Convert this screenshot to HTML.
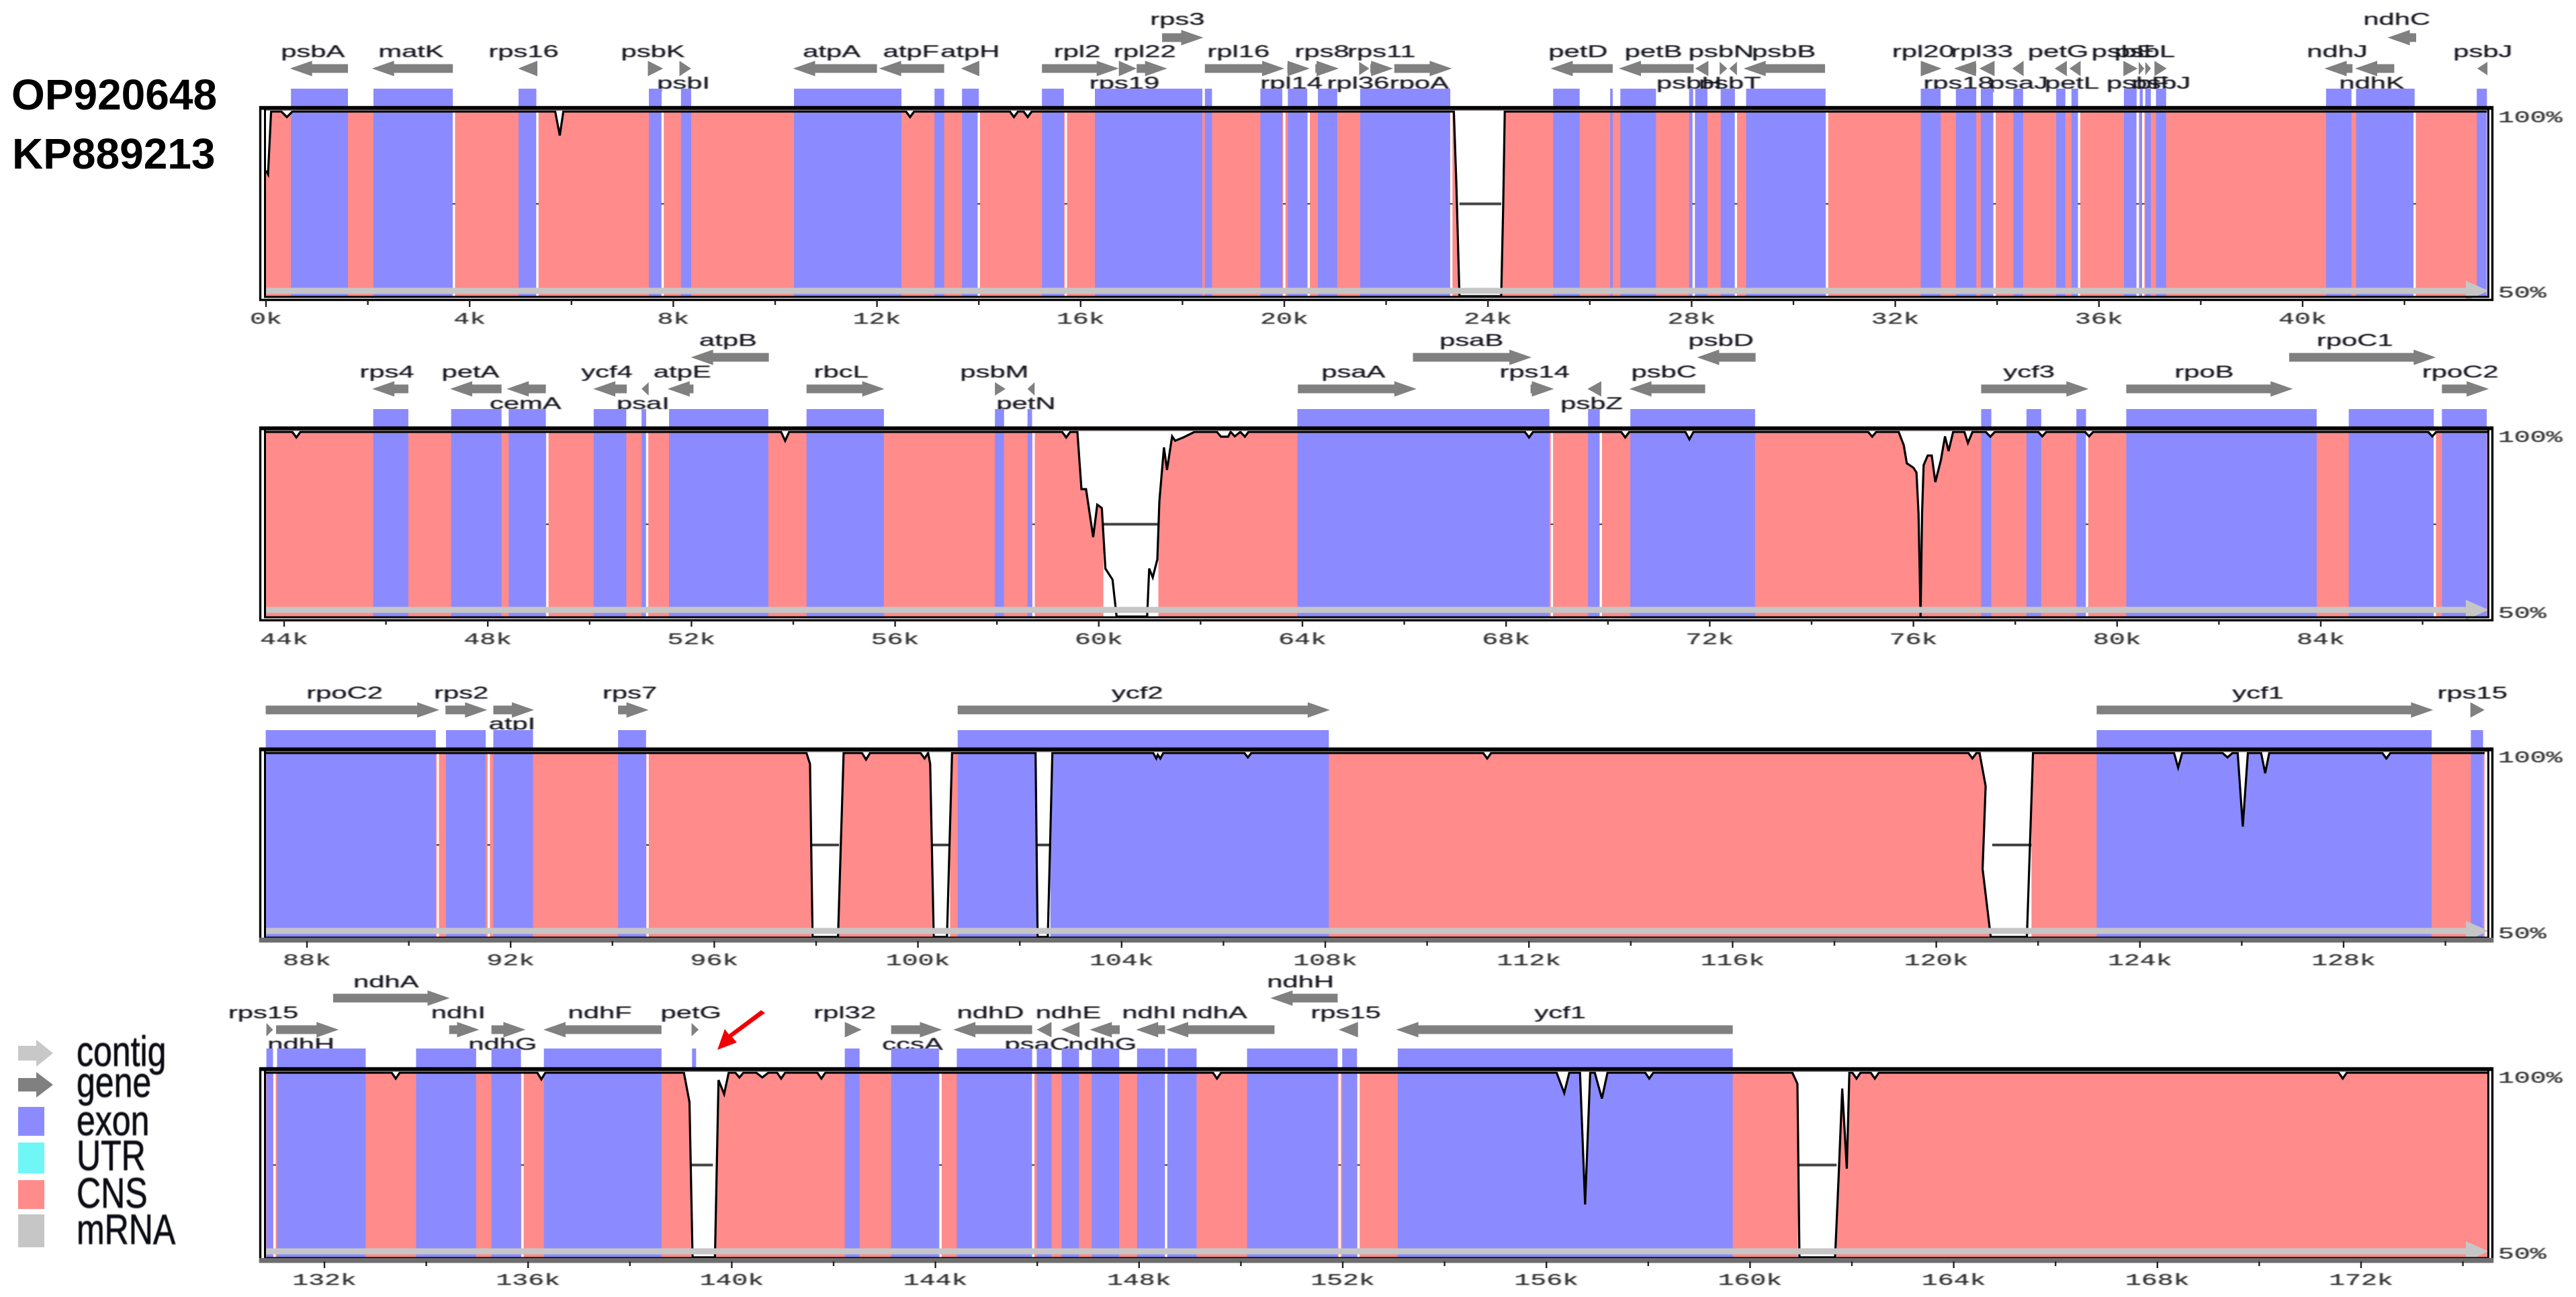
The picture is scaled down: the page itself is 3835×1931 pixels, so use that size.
<!DOCTYPE html>
<html lang="en">
<head>
<meta charset="utf-8">
<title>mVISTA alignment OP920648 vs KP889213</title>
<style>
html,body{margin:0;padding:0;background:#fff;}
body{width:3835px;height:1931px;overflow:hidden;}
svg{display:block;}
text{font-family:"Liberation Sans",sans-serif;}
.gene-label{font-size:25px;fill:#14141f;stroke:#14141f;stroke-width:.25px;text-anchor:middle;filter:blur(.6px);}
.tick-label{font-family:"Liberation Mono",monospace;font-size:24px;fill:#333;stroke:#333;stroke-width:.3px;filter:blur(.6px);}
.legend-text{font-size:50px;fill:#0c0c14;stroke:#0c0c14;stroke-width:.6px;filter:blur(.6px);}
.seq-label{font-size:64px;font-weight:bold;fill:#000;}
</style>
</head>
<body>
<svg id="chart" xmlns="http://www.w3.org/2000/svg" width="3835" height="1931" viewBox="0 0 3835 1931">
  <rect x="0" y="0" width="3835" height="1931" fill="#fff"/>
  <text class="seq-label" x="17" y="163">OP920648</text>
  <text class="seq-label" x="18" y="251">KP889213</text>
  <g id="panels"></g>
  <g>
    <polygon points="27,1557 54,1557 54,1548 79,1568 54,1588 54,1579 27,1579" fill="#c8c8c8"/>
    <polygon points="27,1605 54,1605 54,1596 79,1615 54,1634 54,1625 27,1625" fill="#808080"/>
    <rect x="27" y="1648" width="39" height="43" fill="#8b8bff"/>
    <rect x="27" y="1701" width="39" height="46" fill="#6ff6f6"/>
    <rect x="27" y="1757" width="39" height="43" fill="#ff8b8b"/>
    <rect x="27" y="1808" width="39" height="49" fill="#c6c6c6"/>
    <text class="legend-text" transform="translate(114,1587) scale(1,1.27)">contig</text>
    <text class="legend-text" transform="translate(114,1633) scale(1,1.27)">gene</text>
    <text class="legend-text" transform="translate(114,1690) scale(1,1.27)">exon</text>
    <text class="legend-text" transform="translate(114,1742) scale(1,1.27)">UTR</text>
    <text class="legend-text" transform="translate(114,1798) scale(1,1.27)">CNS</text>
    <text class="legend-text" transform="translate(114,1852) scale(1,1.27)">mRNA</text>
  </g>
  <polygon points="1133,1504 1139,1508 1090,1544 1097,1552 1068,1563 1079,1532 1085,1540" fill="#f00000"/>
</svg>
<script>
// ---- Panel 1 data (kb, % identity) ----
const panel1Ticks = [0,4,8,12,16,20,24,28,32,36,40];
const panel1Exons = [[0.49,1.61],[2.11,3.67],[4.96,5.31],[7.52,7.77],[8.15,8.35],[10.37,12.48],[13.13,13.32],[13.67,14.0],[15.24,15.67],[16.28,18.39],[18.44,18.58],[19.53,19.96],[20.07,20.45],[20.66,21.04],[21.49,23.26],[25.28,25.8],[26.4,26.45],[26.6,27.3],[27.95,28.03],[28.07,28.31],[28.57,28.85],[29.07,30.63],[32.5,32.89],[33.19,33.59],[33.68,33.92],[34.32,34.51],[35.16,35.34],[35.46,35.59],[36.49,36.74],[36.8,36.86],[36.91,37.02],[37.12,37.32],[40.46,40.96],[41.05,42.2],[43.42,43.62]];
const panel1WhiteLines = [3.69,5.33,7.79,14.0,15.71,20.0,20.48,23.28,28.04,28.87,30.66,33.95,35.61,36.76,36.87,42.2];
const panel1Gaps = [[23.44,24.26]];
const panel1Curve = [[0,84],[0.04,83],[0.1,100],[0.3,100],[0.41,98.5],[0.52,100],[5.68,100],[5.77,93.5],[5.84,100],[12.57,100],[12.65,98.5],[12.73,100],[14.61,100],[14.69,98.5],[14.77,100],[14.88,100],[14.96,98.5],[15.04,100],[23.33,100],[23.38,80],[23.44,50],[24.26,50],[24.3,75],[24.33,100],[43.62,100]];
const panel1Genes = [
 ['psbA',0.47,1.61,-1,0.92,'up'],['matK',2.08,3.67,-1,2.85,'up'],['rps16',4.95,5.33,-1,5.06,'up'],['psbK',7.5,7.8,1,7.6,'up'],['psbI',8.12,8.35,1,8.2,'low'],
 ['atpA',10.35,12.0,-1,11.11,'up'],['atpF',12.04,13.32,-1,12.67,'up'],['atpH',13.65,14.01,-1,13.83,'up'],['rpl2',15.24,16.75,1,15.93,'up'],['rps19',16.75,17.1,1,16.86,'low'],
 ['rpl22',17.1,17.7,1,17.26,'up'],['rps3',17.6,18.41,1,17.9,'top'],['rpl16',18.44,20.0,1,19.1,'up'],['rpl14',20.06,20.5,1,20.14,'low'],['rps8',20.61,21.07,1,20.74,'up'],
 ['rpl36',21.47,21.67,1,21.45,'low'],['rps11',21.69,22.14,1,21.91,'up'],['rpoA',22.16,23.29,1,22.65,'low'],['petD',25.23,26.45,-1,25.77,'up'],['petB',26.57,28.04,-1,27.25,'up'],
 ['psbH',28.07,28.33,-1,27.95,'low'],['psbN',28.55,28.7,1,28.58,'up'],['psbT',28.74,28.89,-1,28.75,'low'],['psbB',29.02,30.62,-1,29.81,'up'],['rpl20',32.5,32.91,1,32.55,'up'],
 ['rps18',33.15,33.59,-1,33.24,'low'],['rpl33',33.65,33.95,-1,33.7,'up'],['psaJ',34.3,34.52,-1,34.42,'low'],['petG',35.13,35.37,-1,35.2,'up'],['petL',35.42,35.64,-1,35.47,'low'],
 ['psbE',36.48,36.76,1,36.48,'up'],['psbF',36.78,36.89,1,36.76,'low'],['psbL',36.91,37.02,1,36.9,'up'],['psbJ',37.09,37.33,1,37.22,'low'],['ndhJ',40.43,40.98,-1,40.68,'up'],
 ['ndhK',41.03,41.8,-1,41.36,'low'],['ndhC',41.67,42.23,-1,41.85,'top'],['psbJ',43.43,43.63,-1,43.54,'up']
];

// ---- Panel 2 data ----
const panel2Ticks = [44,48,52,56,60,64,68,72,76,80,84];
const panel2Exons = [[45.75,46.44],[47.28,48.27],[48.41,49.14],[50.08,50.72],[51.02,51.11],[51.56,53.51],[54.26,55.78],[57.96,58.14],[58.6,58.69],[63.9,68.85],[69.61,69.84],[70.44,72.89],[77.33,77.53],[78.22,78.51],[79.2,79.39],[80.18,83.92],[84.55,86.22],[86.38,87.26]];
const panel2WhiteLines = [49.17,51.13,58.72,68.9,69.86,79.41,86.24];
const panel2Gaps = [[60.09,61.17]];
const panel2Curve = [[43.63,100],[44.16,100],[44.24,98.5],[44.32,100],[53.76,100],[53.84,97.6],[53.92,100],[59.28,100],[59.36,98.5],[59.44,100],[59.58,100],[59.66,84.5],[59.75,84.5],[59.89,71.5],[59.97,80.3],[60.06,79.4],[60.13,63],[60.27,60],[60.35,50],[60.95,50],[60.99,63],[61.06,60.6],[61.15,65.5],[61.19,81.2],[61.28,95.8],[61.34,89.7],[61.44,98.8],[61.5,97.6],[61.66,98.5],[61.88,100],[62.32,100],[62.4,98.7],[62.54,98.7],[62.59,100],[62.67,98.8],[62.78,100],[62.87,98.7],[62.94,100],[68.37,100],[68.45,98.5],[68.53,100],[70.26,100],[70.34,98.5],[70.42,100],[71.52,100],[71.6,98],[71.68,100],[75.11,100],[75.19,98.7],[75.27,100],[75.71,100],[75.81,96.4],[75.87,91.5],[76.0,90.3],[76.06,89],[76.1,78],[76.14,50],[76.17,78],[76.2,91],[76.28,93.6],[76.36,93.6],[76.43,86.4],[76.54,92.4],[76.62,98.8],[76.69,94.8],[76.78,100],[77.0,100],[77.07,97],[77.16,100],[77.42,100],[77.51,98.7],[77.6,100],[78.45,100],[78.53,98.8],[78.61,100],[79.37,100],[79.45,98.8],[79.53,100],[86.11,100],[86.19,98.8],[86.27,100],[87.3,100]];
const panel2Genes = [
 ['rps4',45.73,46.44,-1,46.02,'up'],['petA',47.26,48.27,-1,47.66,'up'],['cemA',48.37,49.14,-1,48.74,'low'],['ycf4',50.07,50.73,-1,50.34,'up'],['psaI',51.02,51.16,-1,51.05,'low'],
 ['atpE',51.53,52.04,-1,51.82,'up'],['atpB',51.99,53.52,-1,52.72,'top'],['rbcL',54.26,55.79,1,54.94,'up'],['psbM',57.96,58.17,1,57.95,'up'],['petN',58.6,58.74,-1,58.57,'low'],
 ['psaA',63.91,66.24,1,65.0,'up'],['psaB',66.17,68.5,1,67.32,'top'],['rps14',68.48,68.94,1,68.56,'up'],['psbZ',69.6,69.87,-1,69.68,'low'],['psbC',70.42,71.91,-1,71.1,'up'],
 ['psbD',71.75,72.9,-1,72.22,'top'],['ycf3',77.33,79.44,1,78.27,'up'],['rpoB',80.18,83.45,1,81.71,'up'],['rpoC1',83.38,86.26,1,84.67,'top'],['rpoC2',86.38,87.3,1,86.74,'up']
];

// ---- Panel 3 data ----
const panel3Ticks = [88,92,96,100,104,108,112,116,120,124,128];
const panel3Exons = [[87.19,90.53],[90.73,91.51],[91.66,92.44],[94.11,94.66],[100.78,108.07],[123.15,129.73],[130.5,130.74]];
const panel3WhiteLines = [90.57,91.57,94.69];
const panel3Gaps = [[97.9,98.45],[100.28,100.63],[102.34,102.6],[121.1,121.87]];
const panel3Curve = [[87.19,100],[97.81,100],[97.88,97],[97.93,50],[98.43,50],[98.54,100],[98.9,100],[98.98,98.2],[99.06,100],[100.05,100],[100.13,98.5],[100.2,100],[100.24,97],[100.31,50],[100.57,50],[100.67,100],[102.31,100],[102.35,50],[102.55,50],[102.64,100],[104.62,100],[104.68,98.5],[104.71,99.5],[104.76,98.5],[104.82,100],[106.41,100],[106.48,98.8],[106.55,100],[111.1,100],[111.18,98.5],[111.26,100],[120.63,100],[120.71,98.5],[120.79,100],[120.85,100],[120.97,91],[120.91,68.5],[121.07,50],[121.78,50],[121.9,100],[124.67,100],[124.75,96],[124.83,100],[125.62,100],[125.72,98.8],[125.82,100],[125.92,100],[126.02,80],[126.12,100],[126.38,100],[126.46,94.5],[126.54,100],[128.76,100],[128.84,98.5],[128.92,100],[130.77,100]];
const panel3Genes = [
 ['rpoC2',87.19,90.6,1,88.74,'up'],['rps2',90.72,91.54,1,91.03,'up'],['atpI',91.66,92.46,1,92.03,'low'],['rps7',94.11,94.71,1,94.34,'up'],['ycf2',100.78,108.09,1,104.31,'up'],
 ['ycf1',123.15,129.76,1,126.32,'up'],['rps15',130.49,130.77,1,130.53,'up']
];

// ---- Panel 4 data ----
const panel4Ticks = [132,136,140,144,148,152,156,160,164,168,172];
const panel4Exons = [[130.86,130.99],[131.07,132.81],[133.8,134.98],[135.28,135.86],[136.31,138.62],[139.22,139.3],[142.22,142.51],[143.13,144.07],[144.42,145.9],[145.99,146.28],[146.48,146.82],[147.07,147.61],[147.96,148.51],[148.56,149.13],[150.12,151.9],[151.99,152.28],[153.08,159.66]];
const panel4WhiteLines = [131.02,135.89,144.1,145.92,148.53,151.94,152.31];
const panel4Gaps = [[139.2,139.63],[160.94,161.7]];
const panel4Curve = [[130.84,100],[133.32,100],[133.4,98.4],[133.48,100],[136.18,100],[136.26,98.2],[136.34,100],[139.06,100],[139.17,92],[139.23,50],[139.67,50],[139.74,98],[139.85,94.2],[139.94,100],[140.07,100],[140.15,98.7],[140.23,100],[140.48,100],[140.6,98.7],[140.72,100],[140.89,100],[140.97,98.4],[141.05,100],[141.68,100],[141.76,98.4],[141.84,100],[149.45,100],[149.53,98.4],[149.61,100],[156.2,100],[156.35,94.5],[156.45,100],[156.66,100],[156.76,64.3],[156.86,100],[156.95,100],[157.09,93],[157.2,100],[157.94,100],[158.02,98.4],[158.1,100],[160.83,100],[160.93,97],[160.97,50],[161.67,50],[161.74,72],[161.81,95.7],[161.9,74],[161.95,100],[162.01,100],[162.09,98.4],[162.17,100],[162.37,100],[162.45,98.4],[162.53,100],[171.56,100],[171.64,98.4],[171.72,100],[174.48,100]];
const panel4Genes = [
 ['rps15',130.86,130.99,1,130.8,'up'],['ndhH',131.05,132.28,1,131.54,'low'],['ndhA',132.17,134.46,1,133.21,'top'],['ndhI',134.45,135.04,1,134.63,'up'],['ndhG',135.28,135.95,1,135.5,'low'],
 ['ndhF',136.3,138.62,-1,137.41,'up'],['petG',139.21,139.35,1,139.2,'up'],['rpl32',142.22,142.55,1,142.22,'up'],['ccsA',143.13,144.13,1,143.55,'low'],['ndhD',144.35,145.9,-1,145.08,'up'],
 ['psaC',145.99,146.28,-1,146.0,'low'],['ndhE',146.47,146.83,-1,146.61,'up'],['ndhG',147.03,147.62,-1,147.28,'low'],['ndhI',147.94,148.51,-1,148.2,'up'],['ndhA',148.53,150.66,-1,149.48,'up'],
 ['ndhH',150.58,151.9,-1,151.17,'top'],['rps15',151.92,152.3,-1,152.06,'up'],['ycf1',153.05,159.66,-1,156.27,'up']
];

const SVGNS = 'http://www.w3.org/2000/svg';
const PX_PER_KB = 75.8;
const BLUE = '#8b8bff', RED = '#ff8b8b', GENE = '#808080', BAR = '#c6c6c6';

function mk(tag, attrs, parent) {
  const el = document.createElementNS(SVGNS, tag);
  for (const k in attrs) el.setAttribute(k, attrs[k]);
  parent.appendChild(el);
  return el;
}

const layouts = [
  {k0:0,  x0:396, start:0,     end:43.62,  frameTop:158,  y100:166,  y50:441,  frameBot:445,  exonTop:132,  barC:433,  arrow:102,  arrowTop:56,   up:85,   low:132,  top:37,   tickTop:447,  tickText:482,  pct100:182,  pct50:443,  greyBottom:false,
   ticks:panel1Ticks, exons:panel1Exons, lines:panel1WhiteLines, gaps:panel1Gaps, curve:panel1Curve, genes:panel1Genes},
  {k0:44, x0:423, start:43.63, end:87.3,   frameTop:635,  y100:643,  y50:918,  frameBot:922,  exonTop:609,  barC:908,  arrow:579,  arrowTop:532,  up:562,  low:609,  top:515,  tickTop:923,  tickText:959,  pct100:658,  pct50:920,  greyBottom:false,
   ticks:panel2Ticks, exons:panel2Exons, lines:panel2WhiteLines, gaps:panel2Gaps, curve:panel2Curve, genes:panel2Genes},
  {k0:88, x0:457, start:87.19, end:130.77, frameTop:1113, y100:1121, y50:1395, frameBot:1400, exonTop:1087, barC:1386, arrow:1057, arrowTop:1010, up:1040, low:1086, top:993,  tickTop:1401, tickText:1437, pct100:1135, pct50:1397, greyBottom:true,
   ticks:panel3Ticks, exons:panel3Exons, lines:panel3WhiteLines, gaps:panel3Gaps, curve:panel3Curve, genes:panel3Genes},
  {k0:132,x0:483, start:130.84,end:174.48, frameTop:1589, y100:1597, y50:1872, frameBot:1877, exonTop:1561, barC:1863, arrow:1533, arrowTop:1486, up:1516, low:1563, top:1470, tickTop:1878, tickText:1913, pct100:1612, pct50:1874, greyBottom:true,
   ticks:panel4Ticks, exons:panel4Exons, lines:panel4WhiteLines, gaps:panel4Gaps, curve:panel4Curve, genes:panel4Genes}
];

function drawPanel(p, i, root) {
  const xOf = k => p.x0 + (k - p.k0) * PX_PER_KB;
  const yOf = v => p.y100 + (100 - v) / 50 * (p.y50 - p.y100);
  const g = mk('g', {}, root);
  
  

  // genes
  p.genes.forEach(gene => {
    const [name, a, b, dir, labelKb, row] = gene;
    const yc = row === 'top' ? p.arrowTop : p.arrow;
    const x1 = xOf(a), x2 = xOf(b), len = x2 - x1;
    const head = Math.min(33, len);
    const hh = len < 16 ? 10 : 11.5, bh = 6.5;
    let pts;
    if (dir > 0) {
      const s = x2 - head;
      pts = `${x1},${yc-bh} ${s},${yc-bh} ${s},${yc-hh} ${x2},${yc} ${s},${yc+hh} ${s},${yc+bh} ${x1},${yc+bh}`;
    } else {
      const s = x1 + head;
      pts = `${x2},${yc-bh} ${s},${yc-bh} ${s},${yc-hh} ${x1},${yc} ${s},${yc+hh} ${s},${yc+bh} ${x2},${yc+bh}`;
    }
    const arrow = mk('polygon', {points: pts, fill: GENE}, g);
    
    
    const base = row === 'top' ? p.top : (row === 'low' ? p.low : p.up);
    const label = mk('text', {class: 'gene-label', transform: `translate(${xOf(labelKb)},${base}) scale(1.67,1)`}, g);
    label.textContent = name;
    
    
  });

  // exon stubs above the frame
  p.exons.forEach(e => {
    const stub = mk('rect', {x: xOf(e[0]), y: p.exonTop, width: xOf(e[1]) - xOf(e[0]), height: p.frameTop - p.exonTop + 4, fill: BLUE}, g);
    
    
  });

  // clip: area under the conservation curve
  const defs = mk('defs', {}, g);
  const clip = mk('clipPath', {id: 'under-curve-' + i}, defs);
  const curvePts = p.curve.map(c => `${xOf(c[0])},${yOf(c[1])}`).join(' ');
  const first = p.curve[0], last = p.curve[p.curve.length - 1];
  mk('polygon', {points: `${xOf(first[0])},${p.y50} ${curvePts} ${xOf(last[0])},${p.y50}`}, clip);

  const filled = mk('g', {'clip-path': `url(#under-curve-${i})`}, g);
  
  
  const cns = mk('rect', {x: xOf(p.start), y: p.y100, width: xOf(p.end) - xOf(p.start), height: p.y50 - p.y100, fill: RED}, filled);
  
  
  p.exons.forEach(e => {
    const ex = mk('rect', {x: xOf(e[0]), y: p.y100, width: xOf(e[1]) - xOf(e[0]), height: p.y50 - p.y100, fill: BLUE}, filled);
    
    
  });

  // white separators with tiny mid-height dots
  const midY = (p.y100 + p.y50) / 2;
  p.lines.forEach(k => {
    const sep = mk('rect', {x: xOf(k) - 1.7, y: p.y100, width: 3.4, height: p.y50 - p.y100, fill: '#fff'}, g);
    
    
    const dot = mk('rect', {x: xOf(k) - 2, y: midY - 1, width: 4, height: 2, fill: '#333'}, g);
    
    
  });

  // large unaligned gaps
  p.gaps.forEach(gp => {
    const w = mk('rect', {x: xOf(gp[0]), y: p.y100, width: xOf(gp[1]) - xOf(gp[0]), height: p.y50 - p.y100, fill: '#fff'}, g);
    
    
    const m = mk('rect', {x: xOf(gp[0]), y: midY - 2, width: xOf(gp[1]) - xOf(gp[0]), height: 4, fill: '#444'}, g);
    
    
  });

  // conservation curve
  const line = mk('polyline', {points: curvePts, fill: 'none', stroke: '#000', 'stroke-width': 3.2, 'stroke-linejoin': 'miter'}, g);
  
  

  // mRNA/contig bar with arrowhead
  const barStart = 396, barEnd = 3671, barTip = 3705, bh2 = 4.5;
  const bar = mk('polygon', {points: `${barStart},${p.barC-bh2} ${barEnd},${p.barC-bh2} ${barEnd},${p.barC-15} ${barTip},${p.barC} ${barEnd},${p.barC+15} ${barEnd},${p.barC+bh2} ${barStart},${p.barC+bh2}`, fill: BAR}, g);
  
  

  // top band and frame
  const band = mk('rect', {x: 394, y: p.frameTop + 3, width: 3310, height: p.y100 - p.frameTop - 4, fill: '#7a6a6a', 'fill-opacity': 0.75}, g);
  
  
  const outer = mk('rect', {x: 387.5, y: p.frameTop + 1.5, width: 3323, height: p.frameBot - p.frameTop, fill: 'none', stroke: '#000', 'stroke-width': 3.4}, g);
  
  
  const inner = mk('rect', {x: 394.5, y: p.frameTop + 3, width: 3310, height: p.y50 - p.frameTop - 2, fill: 'none', stroke: '#000', 'stroke-width': 3}, g);
  
  
  const topBar = mk('rect', {x: 386, y: p.frameTop, width: 3326, height: 5.5, fill: '#000'}, g);
  
  
  if (p.greyBottom) {
    const bottomBand = mk('rect', {x: 386, y: p.y50 + 1, width: 3326, height: p.frameBot - p.y50 + 2, fill: '#6e6e6e'}, g);
    
    
  }

  // x axis
  p.ticks.forEach(k => {
    const t = mk('rect', {x: xOf(k) - 1.2, y: p.tickTop, width: 2.4, height: 10, fill: '#222'}, g);
    
    
    const lab = mk('text', {class: 'tick-label', 'text-anchor': 'middle', transform: `translate(${xOf(k)},${p.tickText}) scale(1.66,1)`}, g);
    lab.textContent = k + 'k';
    
    
    const mx = xOf(k + 2);
    if (mx < 3700) {
      const mt = mk('rect', {x: mx - 1.2, y: p.tickTop, width: 2.4, height: 7, fill: '#222'}, g);
      
      
    }
  });

  // y labels
  const hi = mk('text', {class: 'tick-label', transform: `translate(3719,${p.pct100}) scale(1.66,1)`}, g);
  hi.textContent = '100%';
  
  
  const lo = mk('text', {class: 'tick-label', transform: `translate(3719,${p.pct50}) scale(1.66,1)`}, g);
  lo.textContent = '50%';
  
  
}

const panelsRoot = document.getElementById('panels');
layouts.forEach((p, i) => drawPanel(p, i, panelsRoot));
</script>
</body>
</html>
